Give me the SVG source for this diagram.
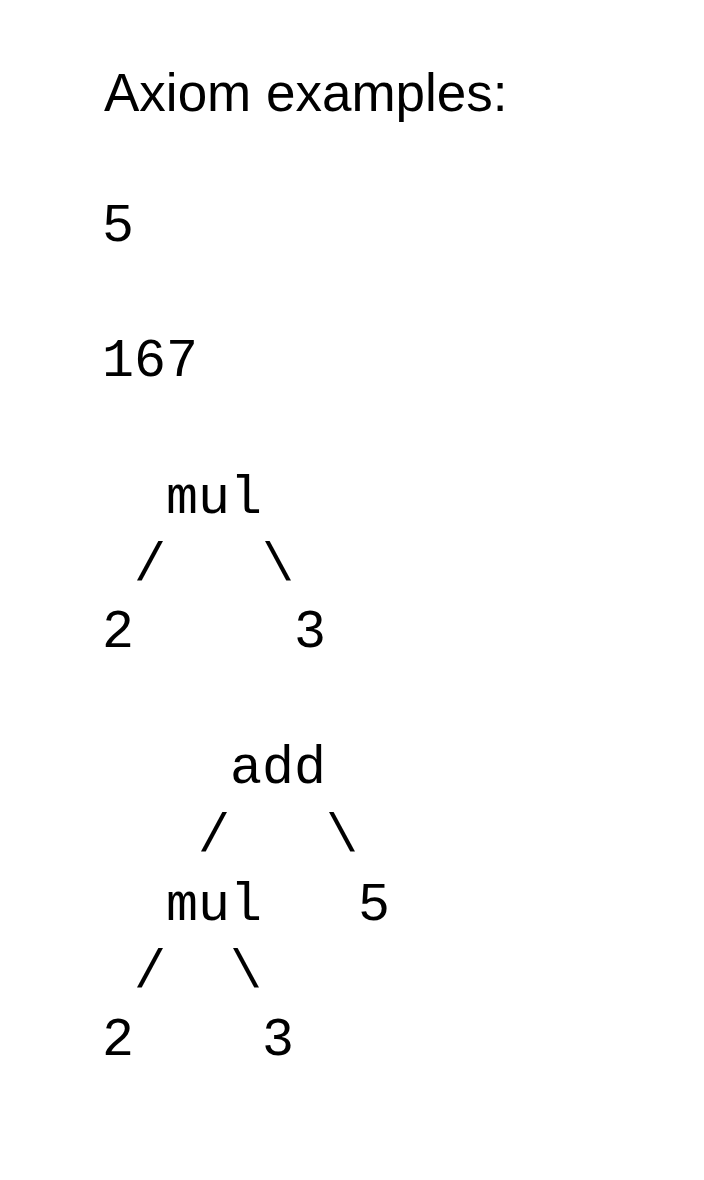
<svg xmlns="http://www.w3.org/2000/svg" width="704" height="1180" viewBox="0 0 704 1180">
<style>
.t{font-family:"Liberation Sans",Arial,sans-serif;font-size:53px;fill:#000}
.m{font-family:"Liberation Mono","Courier New",monospace;font-size:53.3px;fill:#000}
</style>
<rect width="704" height="1180" fill="#fff"/>
<text class="t" x="104" y="111">Axiom examples:</text>
<g id="ex1"><text class="m" x="102" y="241">5</text></g>
<g id="ex2"><text class="m" x="102" y="376">167</text></g>
<g id="tree1">
  <g id="t1-mul"><text class="m" x="166" y="513">mul</text></g>
  <g id="t1-2"><text class="m" x="102" y="647">2</text></g>
  <g id="t1-3"><text class="m" x="294" y="647">3</text></g>
</g>
<g id="tree2">
  <g id="t2-add"><text class="m" x="230" y="783">add</text></g>
  <g id="t2-mul"><text class="m" x="166" y="920">mul</text></g>
  <g id="t2-5"><text class="m" x="358" y="920">5</text></g>
  <g id="t2-2"><text class="m" x="102" y="1055">2</text></g>
  <g id="t2-3"><text class="m" x="262" y="1055">3</text></g>
</g>
<g id="connectors">
  <text class="m" x="134" y="580">/</text>
  <text class="m" x="262" y="580">\</text>
  <text class="m" x="198" y="851">/</text>
  <text class="m" x="326" y="851">\</text>
  <text class="m" x="134" y="987">/</text>
  <text class="m" x="230" y="987">\</text>
</g>
</svg>
